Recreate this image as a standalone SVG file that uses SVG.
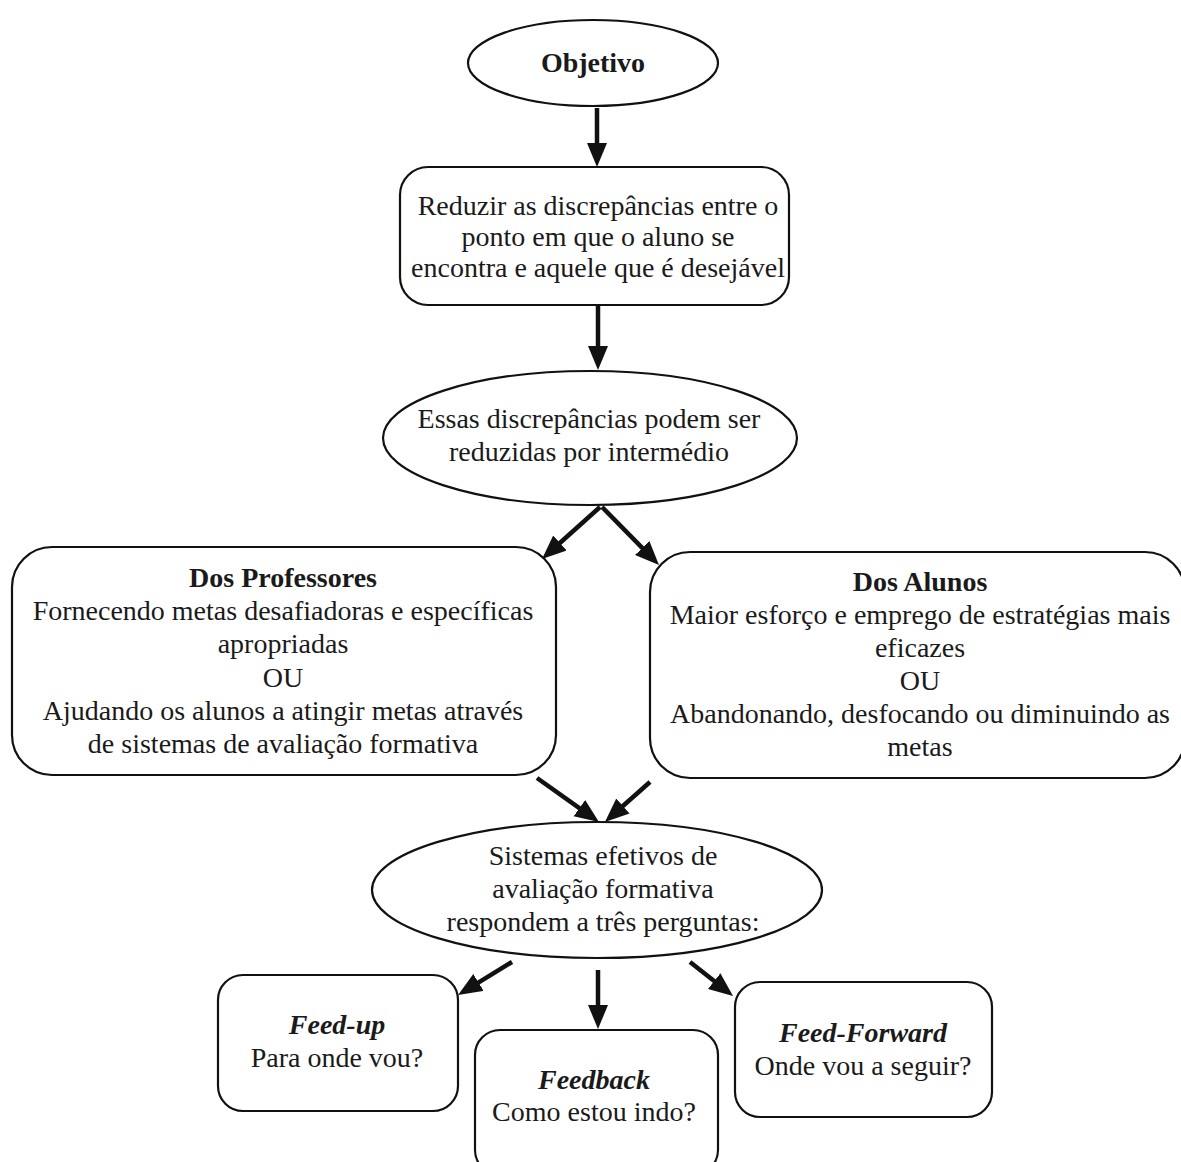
<svg xmlns="http://www.w3.org/2000/svg" width="1181" height="1162" viewBox="0 0 1181 1162">
<style>
.shape{fill:#fff;stroke:#111;stroke-width:2.2}
.t{font-family:"Liberation Serif","Times New Roman",serif;font-size:28px;fill:#1a1a1a;text-anchor:middle}
.b{font-weight:bold}
.bi{font-weight:bold;font-style:italic}
.arrow{stroke:#111;stroke-width:4.5;fill:none;marker-end:url(#ah)}
</style>
<defs>
<marker id="ah" markerUnits="userSpaceOnUse" markerWidth="26" markerHeight="22" refX="6" refY="10" orient="auto">
<path d="M0,0 L24,10 L0,20 z" fill="#111"/>
</marker>
</defs>
<rect width="1181" height="1162" fill="#fff"/>
<g id="connectors">
<line class="arrow" x1="597" y1="108" x2="597" y2="149"/>
<line class="arrow" x1="598" y1="305" x2="598" y2="352"/>
<line class="arrow" x1="600" y1="507" x2="555.4" y2="547"/>
<line class="arrow" x1="602" y1="507" x2="646.4" y2="552.2"/>
<line class="arrow" x1="537" y1="778" x2="584.3" y2="811.6"/>
<line class="arrow" x1="650" y1="782" x2="618.4" y2="810"/>
<line class="arrow" x1="512" y1="962" x2="473.4" y2="985.6"/>
<line class="arrow" x1="598" y1="970" x2="598" y2="1011"/>
<line class="arrow" x1="690" y1="962" x2="718.9" y2="984.8"/>
</g>
<g id="objetivo">
<ellipse class="shape" cx="593" cy="63" rx="125" ry="43"/>
<text class="t b" x="593" y="72">Objetivo</text>
</g>
<g id="reduzir">
<rect class="shape" x="400" y="167" width="389" height="138" rx="28"/>
<text class="t" x="598" y="215">Reduzir as discrepâncias entre o</text>
<text class="t" x="598" y="246">ponto em que o aluno se</text>
<text class="t" x="598" y="277">encontra e aquele que é desejável</text>
</g>
<g id="essas">
<ellipse class="shape" cx="590" cy="438" rx="207" ry="67"/>
<text class="t" x="589" y="428">Essas discrepâncias podem ser</text>
<text class="t" x="589" y="461">reduzidas por intermédio</text>
</g>
<g id="professores">
<rect class="shape" x="12" y="547" width="544" height="228" rx="40"/>
<text class="t b" x="283" y="587">Dos Professores</text>
<text class="t" x="283" y="620">Fornecendo metas desafiadoras e específicas</text>
<text class="t" x="283" y="653">apropriadas</text>
<text class="t" x="283" y="687">OU</text>
<text class="t" x="283" y="720">Ajudando os alunos a atingir metas através</text>
<text class="t" x="283" y="753">de sistemas de avaliação formativa</text>
</g>
<g id="alunos">
<rect class="shape" x="650" y="552" width="535" height="226" rx="40"/>
<text class="t b" x="920" y="591">Dos Alunos</text>
<text class="t" x="920" y="624">Maior esforço e emprego de estratégias mais</text>
<text class="t" x="920" y="657">eficazes</text>
<text class="t" x="920" y="690">OU</text>
<text class="t" x="920" y="723">Abandonando, desfocando ou diminuindo as</text>
<text class="t" x="920" y="756">metas</text>
</g>
<g id="sistemas">
<ellipse class="shape" cx="597" cy="890" rx="225" ry="68"/>
<text class="t" x="603" y="865">Sistemas efetivos de</text>
<text class="t" x="603" y="898">avaliação formativa</text>
<text class="t" x="603" y="931">respondem a três perguntas:</text>
</g>
<g id="feedup">
<rect class="shape" x="218" y="975" width="240" height="136" rx="25"/>
<text class="t bi" x="337" y="1034">Feed-up</text>
<text class="t" x="337" y="1067">Para onde vou?</text>
</g>
<g id="feedback">
<rect class="shape" x="475" y="1030" width="243" height="145" rx="25"/>
<text class="t bi" x="594" y="1089">Feedback</text>
<text class="t" x="594" y="1121">Como estou indo?</text>
</g>
<g id="feedforward">
<rect class="shape" x="735" y="982" width="257" height="135" rx="25"/>
<text class="t bi" x="863" y="1042">Feed-Forward</text>
<text class="t" x="863" y="1075">Onde vou a seguir?</text>
</g>
</svg>
